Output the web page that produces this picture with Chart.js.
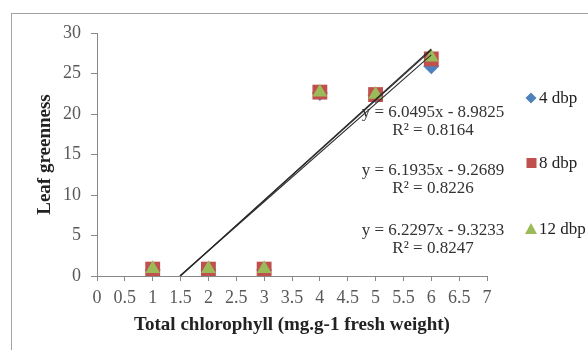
<!DOCTYPE html>
<html>
<head>
<meta charset="utf-8">
<script src="https://cdn.jsdelivr.net/npm/chart.js@4/dist/chart.umd.min.js"></script>
<style>
  html, body { margin: 0; padding: 0; background: #fff; overflow: hidden; }
  #wrap { position: relative; width: 588px; height: 350px; }
  #frame { position: absolute; left: 11px; top: 13px; width: 640px; height: 400px;
           border: 1px solid #a3a3a3; box-sizing: border-box; }
  #leafChart { position: absolute; left: 0; top: 0; }
</style>
</head>
<body>
<div id="wrap">
  <div id="frame"></div>
  <canvas id="leafChart" width="588" height="350"></canvas>
</div>
<script>
// chlorophyll content (x) and leaf greenness per sampling date
const chlorophyll = [1, 2, 3, 4, 5, 6];
const dbp4 = [0.75, 0.75, 0.75, 22.6, 22.3, 25.9];
const dbp8 = [0.85, 0.85, 0.85, 22.7, 22.4, 26.8];
const dbp12 = [0.9, 0.9, 0.9, 22.7, 22.4, 27.0];

const seriesNames = ['4 dbp', '8 dbp', '12 dbp'];
const seriesColors = ['#4f81bd', '#c0504d', '#9bbb59'];

// trendline end points (x-intercept .. x = 6)
const trendX = [[1.485, 6], [1.497, 6], [1.497, 6]];
const trendY = [[0, 27.31], [0, 27.89], [0, 28.05]];

const equations = ['y = 6.0495x - 8.9825', 'y = 6.1935x - 9.2689', 'y = 6.2297x - 9.3233'];
const rSquared = ['R\u00b2 = 0.8164', 'R\u00b2 = 0.8226', 'R\u00b2 = 0.8247'];

const serif = "'Liberation Serif', 'Times New Roman', serif";

const toPoints = (xs, ys) => xs.map((x, i) => ({ x: x, y: ys[i] }));

const markerDatasets = [
    { label: seriesNames[0], data: toPoints(chlorophyll, dbp4), pointStyle: 'rectRot', pointRadius: 8, order: 3 },
    { label: seriesNames[1], data: toPoints(chlorophyll, dbp8), pointStyle: 'rect', pointRadius: 10.5, order: 2 },
    { label: seriesNames[2], data: toPoints(chlorophyll, dbp12), pointStyle: 'triangle', pointRadius: 8.5, order: 1 }
].map((ds, i) => Object.assign(ds, {
    backgroundColor: seriesColors[i],
    borderColor: seriesColors[i],
    borderWidth: 0,
    showLine: false
}));

const trendDatasets = trendX.map((xs, i) => ({
    label: 'trend ' + seriesNames[i],
    data: toPoints(xs, trendY[i]),
    showLine: true,
    pointRadius: 0,
    borderColor: '#2a2a2a',
    borderWidth: 1.1,
    order: 0
}));

// equations + legend drawn on top of the plot
const annotations = {
    id: 'annotations',
    afterDraw(chart) {
        const ctx = chart.ctx;
        ctx.save();
        ctx.fillStyle = '#333';
        ctx.font = '17px ' + serif;
        ctx.textAlign = 'center';
        ctx.textBaseline = 'middle';
        const eqY = [113, 171, 231];
        equations.forEach((eq, i) => {
            ctx.fillText(eq, 433, eqY[i]);
            ctx.fillText(rSquared[i], 433, eqY[i] + 18);
        });

        const legY = [98, 163, 229];
        const mx = 531;
        ctx.textAlign = 'left';
        ctx.font = '17px ' + serif;
        legY.forEach((y, i) => {
            ctx.fillStyle = seriesColors[i];
            ctx.beginPath();
            if (i === 0) {
                ctx.moveTo(mx, y - 5.5); ctx.lineTo(mx + 5.5, y); ctx.lineTo(mx, y + 5.5); ctx.lineTo(mx - 5.5, y);
            } else if (i === 1) {
                ctx.rect(mx - 4.5, y - 5, 10, 10);
            } else {
                ctx.moveTo(mx, y - 6); ctx.lineTo(mx + 6, y + 5); ctx.lineTo(mx - 6, y + 5);
            }
            ctx.closePath();
            ctx.fill();
            ctx.fillStyle = '#222';
            ctx.fillText(seriesNames[i], mx + 8, y + 1);
        });
        ctx.restore();
    }
};

const tickFont = { family: serif, size: 18 };
const titleFont = { family: serif, size: 19, weight: 'bold' };

new Chart(document.getElementById('leafChart').getContext('2d'), {
    type: 'scatter',
    data: { datasets: markerDatasets.concat(trendDatasets) },
    options: {
        responsive: false,
        animation: false,
        layout: { padding: { left: 24, right: 101, top: 33, bottom: 8 } },
        plugins: {
            legend: { display: false },
            tooltip: { enabled: false }
        },
        scales: {
            x: {
                type: 'linear',
                min: 0,
                max: 7,
                afterFit: (scale) => { scale.height = 350 - 276 - 8; },
                ticks: { stepSize: 0.5, font: tickFont, color: '#595959', padding: 6,
                         maxRotation: 0, minRotation: 0, autoSkip: false,
                         callback: (v) => String(v) },
                grid: { drawOnChartArea: false, tickLength: 5, color: '#888' },
                border: { display: true, color: '#888' },
                title: {
                    display: true,
                    text: 'Total chlorophyll (mg.g-1 fresh weight)',
                    font: titleFont,
                    color: '#222',
                    padding: { top: 4, bottom: 6 }
                }
            },
            y: {
                min: 0,
                max: 30,
                afterFit: (scale) => { scale.width = 97 - 24; },
                ticks: { stepSize: 5, font: tickFont, color: '#595959', padding: 10 },
                grid: { drawOnChartArea: false, tickLength: 6, color: '#888' },
                border: { display: true, color: '#888' },
                title: {
                    display: true,
                    text: 'Leaf greenness',
                    font: titleFont,
                    color: '#222',
                    padding: { top: 10, bottom: 4 }
                }
            }
        }
    },
    plugins: [annotations]
});
</script>
</body>
</html>
